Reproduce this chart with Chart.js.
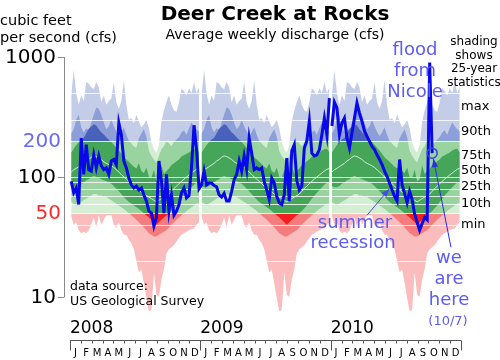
<!DOCTYPE html>
<html>
<head>
<meta charset="utf-8">
<script src="https://cdn.jsdelivr.net/npm/chart.js@4.4.1/dist/chart.umd.min.js"></script>
<style>
  html, body { margin: 0; padding: 0; background: #fff; }
  #wrap { width: 500px; height: 360px; }
</style>
</head>
<body>
<div id="wrap"><canvas id="flowChart" width="500" height="360"></canvas></div>
<script>
// 25-year weekly statistics (cfs), week 1..52, same every year
const statMax = [480, 780, 500, 400, 480, 430, 620, 600, 560, 540, 620, 560, 420,
  480, 400, 430, 450, 620, 420, 370, 430, 640, 400, 300, 310, 280,
  330, 290, 260, 275, 300, 255, 195, 170, 160, 185, 290, 360, 420,
  480, 400, 360, 350, 420, 550, 520, 480, 550, 500, 620, 500, 560];
const stat90 = [230, 250, 300, 330, 260, 235, 255, 245, 285, 330, 380, 370, 330,
  285, 250, 265, 300, 265, 240, 220, 235, 260, 225, 200, 190, 180,
  175, 210, 230, 250, 215, 165, 150, 140, 132, 150, 170, 180, 200,
  190, 180, 195, 205, 215, 235, 245, 225, 255, 285, 265, 250, 240];
const stat75 = [160, 172, 185, 195, 205, 212, 232, 252, 262, 275, 268, 250, 236,
  226, 214, 204, 196, 186, 175, 166, 156, 146, 140, 134, 128, 122,
  118, 130, 112, 108, 120, 100, 98, 115, 92, 96, 125, 106, 112,
  118, 126, 130, 135, 140, 148, 152, 156, 160, 166, 170, 172, 160];
const stat50 = [110, 115, 118, 122, 126, 130, 136, 140, 146, 150, 148, 144, 140,
  134, 130, 127, 124, 120, 115, 110, 105, 100, 96, 92, 88, 84,
  80, 78, 75, 72, 70, 68, 66, 64, 62, 64, 66, 68, 70,
  72, 76, 80, 84, 88, 92, 96, 100, 104, 108, 112, 116, 118];
const stat25 = [84, 82, 82, 84, 88, 90, 94, 96, 100, 102, 100, 98, 96,
  94, 92, 90, 88, 84, 80, 76, 72, 68, 65, 62, 60, 58,
  56, 54, 52, 50, 48, 46, 44, 42, 40, 42, 44, 46, 48,
  50, 52, 55, 58, 62, 66, 70, 74, 78, 82, 86, 90, 90];
const stat10 = [62, 60, 58, 60, 62, 64, 66, 68, 70, 72, 72, 70, 70,
  68, 68, 66, 64, 62, 60, 58, 56, 54, 52, 50, 48, 46,
  44, 42, 40, 38, 36, 34, 33, 32, 32, 33, 34, 35, 36,
  38, 40, 42, 44, 46, 48, 50, 52, 54, 56, 58, 60, 60];
const statMin = [47, 40, 42, 36, 34, 35, 34, 36, 40, 46, 38, 48, 40,
  44, 48, 48, 48, 40, 38, 42, 36, 33, 33, 30, 28, 25,
  20, 16, 17, 13, 9.8, 7.6, 7.8, 16, 10.5, 10, 14, 17, 23,
  25, 26, 27, 29, 31, 33, 34, 35, 36, 37, 37, 40, 42];

// observed average weekly discharge (cfs)
const flow2008 = [92, 74, 81, 59, 211, 105, 186, 115, 112, 153, 119, 150, 124,
  115, 119, 105, 136, 140, 127, 282, 225, 136, 119, 98, 86, 81,
  84, 78, 81, 71, 63, 52, 50, 39, 46, 136, 93, 50, 105,
  52, 71, 48, 52, 59, 74, 81, 67, 70, 120, 270, 170, 80];
const flow2009 = [86, 112, 86, 89, 89, 85, 83, 71, 68, 73, 63, 63, 76,
  95, 105, 136, 112, 150, 115, 211, 158, 115, 119, 115, 119, 92,
  78, 65, 98, 89, 69, 61, 59, 71, 144, 63, 165, 186, 93,
  78, 84, 174, 200, 293, 158, 150, 153, 169, 225, 310, 225, 455];
const flow2010 = [266, 420, 376, 225, 282, 310, 211, 174, 233, 310, 414, 341, 291,
  242, 218, 198, 180, 169, 153, 140, 127, 112, 101, 89, 78, 69,
  63, 140, 86, 73, 61, 76, 65, 49, 42, 36, 41, 46, 44,
  900, 158];

const years = [2008, 2009, 2010];
const monthLetters = ["J", "F", "M", "A", "M", "J", "J", "A", "S", "O", "N", "D"];
const tickLabels = [1000, 200, 100, 50, 10];
const gridValues = [500, 300, 200, 100, 90, 80, 70, 60, 50, 40, 20];
const pctLabels = ["max", "90th", "75th", "50th", "25th", "10th", "min"];

const hue = {
  pale:   { blue: "#c4cde8", green: "#d3eed3", red: "#fabcbc" },
  medium: { blue: "#8c9fd8", green: "#98d3a0", red: "#f47c7c" },
  dark:   { blue: "#4862bc", green: "#45a65a", red: "#f41c1c" }
};

const wk = (yr, w) => yr + (w + 0.5) / 52;
const toPts = (arr, yr) => arr.map((v, w) => ({ x: wk(yr, w), y: v }));

function bandColor(level) {
  return (c) => {
    const chart = c.chart;
    const area = chart.chartArea;
    const y = chart.scales.y;
    if (!area || !y) return hue[level].green;
    const g = chart.ctx.createLinearGradient(0, area.top, 0, area.bottom);
    const h = area.bottom - area.top;
    const f200 = Math.min(1, Math.max(0, (y.getPixelForValue(200) - area.top) / h));
    const f50 = Math.min(1, Math.max(0, (y.getPixelForValue(50) - area.top) / h));
    g.addColorStop(0, hue[level].blue);
    g.addColorStop(f200, hue[level].blue);
    g.addColorStop(f200, hue[level].green);
    g.addColorStop(f50, hue[level].green);
    g.addColorStop(f50, hue[level].red);
    g.addColorStop(1, hue[level].red);
    return g;
  };
}

const hidden = { borderWidth: 0, borderColor: "rgba(0,0,0,0)", pointRadius: 0, tension: 0 };
const datasets = [];
years.forEach(yr => {
  datasets.push({ label: "min", data: toPts(statMin, yr), fill: false, order: 5, ...hidden });
  datasets.push({ label: "max", data: toPts(statMax, yr), fill: "-1", backgroundColor: bandColor("pale"), order: 5, ...hidden });
  datasets.push({ label: "p10", data: toPts(stat10, yr), fill: false, order: 4, ...hidden });
  datasets.push({ label: "p90", data: toPts(stat90, yr), fill: "-1", backgroundColor: bandColor("medium"), order: 4, ...hidden });
  datasets.push({ label: "p25", data: toPts(stat25, yr), fill: false, order: 3, ...hidden });
  datasets.push({ label: "p75", data: toPts(stat75, yr), fill: "-1", backgroundColor: bandColor("dark"), order: 3, ...hidden });
  datasets.push({
    label: "p50", data: toPts(stat50, yr), fill: false, order: 2,
    borderColor: "rgba(255,255,255,0.75)", borderWidth: 1, pointRadius: 0, tension: 0
  });
});

const observed = [
  ...toPts(flow2008, 2008),
  ...toPts(flow2009, 2009),
  { x: 2010, y: null },
  ...toPts(flow2010, 2010)
];
const lastIdx = observed.length - 1;
datasets.push({
  label: "observed",
  data: observed,
  order: 0,
  fill: false,
  borderColor: "#0808e8",
  borderWidth: 3,
  tension: 0,
  pointRadius: c => (c.dataIndex === lastIdx ? 5 : 0),
  pointBorderWidth: 1.5,
  pointBorderColor: "#3a3af0",
  pointBackgroundColor: "rgba(0,0,0,0)"
});

function arrow(ctx, x0, y0, x1, y1, color) {
  const a = Math.atan2(y1 - y0, x1 - x0);
  ctx.strokeStyle = color;
  ctx.fillStyle = color;
  ctx.lineWidth = 1;
  ctx.beginPath();
  ctx.moveTo(x0, y0);
  ctx.lineTo(x1, y1);
  ctx.stroke();
  ctx.beginPath();
  ctx.moveTo(x1, y1);
  ctx.lineTo(x1 - 9 * Math.cos(a - 0.35), y1 - 9 * Math.sin(a - 0.35));
  ctx.lineTo(x1 - 9 * Math.cos(a + 0.35), y1 - 9 * Math.sin(a + 0.35));
  ctx.closePath();
  ctx.fill();
}

const decor = {
  id: "decor",
  beforeDatasetDraw(chart, args) {
    if (chart.data.datasets[args.index].label !== "observed") return;
    const { ctx, chartArea, scales } = chart;
    ctx.save();
    ctx.strokeStyle = "rgba(255,255,255,0.8)";
    ctx.lineWidth = 1;
    gridValues.forEach(v => {
      const py = Math.round(scales.y.getPixelForValue(v)) + 0.5;
      ctx.beginPath();
      ctx.moveTo(chartArea.left, py);
      ctx.lineTo(chartArea.right, py);
      ctx.stroke();
    });
    ctx.restore();
  },
  afterDraw(chart) {
    const { ctx, scales } = chart;
    const x = scales.x, y = scales.y;
    const font = "'DejaVu Sans', Verdana, sans-serif";
    const lav = "#5c5cf4";
    ctx.save();

    // left axis
    const axX = 64.5;
    ctx.strokeStyle = "#8a8a8a";
    ctx.lineWidth = 1;
    ctx.beginPath();
    ctx.moveTo(axX, y.getPixelForValue(1000));
    ctx.lineTo(axX, y.getPixelForValue(10));
    ctx.stroke();
    [1000, 100, 10].forEach(v => {
      const py = Math.round(y.getPixelForValue(v)) + 0.5;
      ctx.beginPath();
      ctx.moveTo(58, py);
      ctx.lineTo(axX, py);
      ctx.stroke();
    });
    ctx.textAlign = "right";
    ctx.textBaseline = "middle";
    ctx.font = "20px " + font;
    tickLabels.forEach(v => {
      ctx.fillStyle = v === 200 ? "#6a6af2" : v === 50 ? "#ff2a2a" : "#000";
      ctx.fillText(String(v), v === 1000 || v === 100 || v === 10 ? 56 : 61, y.getPixelForValue(v) + 1);
    });

    // bottom time axis
    const baseY = 340.5;
    ctx.strokeStyle = "#555";
    ctx.beginPath();
    ctx.moveTo(x.getPixelForValue(2008), baseY);
    ctx.lineTo(x.getPixelForValue(2011), baseY);
    ctx.stroke();
    years.concat([2011]).forEach(yr => {
      const px = Math.round(x.getPixelForValue(yr)) + 0.5;
      ctx.beginPath();
      ctx.moveTo(px, baseY);
      ctx.lineTo(px, baseY + 10);
      ctx.stroke();
    });
    ctx.fillStyle = "#000";
    ctx.textAlign = "center";
    ctx.font = "10px " + font;
    years.forEach(yr => {
      for (let m = 0; m < 12; m++) {
        if (m > 0) {
          const px = Math.round(x.getPixelForValue(yr + m / 12)) + 0.5;
          ctx.beginPath();
          ctx.moveTo(px, baseY);
          ctx.lineTo(px, baseY + 3);
          ctx.stroke();
        }
        ctx.fillText(monthLetters[m], x.getPixelForValue(yr + (m + 0.5) / 12), 353);
      }
    });
    ctx.textAlign = "left";
    ctx.font = "17px " + font;
    years.forEach(yr => ctx.fillText(String(yr), x.getPixelForValue(yr), 329));

    // titles
    ctx.textAlign = "center";
    ctx.font = "bold 20px " + font;
    ctx.fillText("Deer Creek at Rocks", 275, 15);
    ctx.font = "14px " + font;
    ctx.fillText("Average weekly discharge (cfs)", 275, 35);
    ctx.textAlign = "left";
    ctx.font = "14.5px " + font;
    ctx.fillText("cubic feet", 0, 21);
    ctx.fillText("per second (cfs)", 0, 38);
    ctx.font = "12.5px " + font;
    ctx.fillText("data source:", 70, 287);
    ctx.fillText("US Geological Survey", 70, 302);

    // right-hand legend
    ctx.textAlign = "center";
    ctx.font = "12px " + font;
    ["shading", "shows", "25-year", "statistics"].forEach((t, i) => ctx.fillText(t, 474, 42 + i * 13.5));
    ctx.textAlign = "left";
    ctx.font = "13px " + font;
    const pctY = [107, 132, 156, 171, 187, 204, 225];
    pctLabels.forEach((t, i) => ctx.fillText(t, 461, pctY[i]));

    // annotations
    ctx.fillStyle = lav;
    ctx.textAlign = "center";
    ctx.font = "18px " + font;
    ["flood", "from", "Nicole"].forEach((t, i) => ctx.fillText(t, 415, 50 + i * 21));
    ctx.fillText("summer", 355, 223);
    ctx.fillText("recession", 353, 243);
    ["we", "are", "here"].forEach((t, i) => ctx.fillText(t, 449, 258 + i * 21));
    ctx.font = "13px " + font;
    ctx.fillText("(10/7)", 448, 322);

    arrow(ctx, x.getPixelForValue(wk(2010, 14)), y.getPixelForValue(48),
      x.getPixelForValue(wk(2010, 23)), y.getPixelForValue(80), "#4a4aec");
    arrow(ctx, x.getPixelForValue(wk(2010, 47.5)), y.getPixelForValue(26),
      x.getPixelForValue(wk(2010, 40.5)), y.getPixelForValue(142), "#2a2ae8");
    ctx.restore();
  }
};

new Chart(document.getElementById("flowChart"), {
  type: "line",
  data: { datasets },
  options: {
    responsive: false,
    animation: false,
    devicePixelRatio: 1,
    parsing: true,
    spanGaps: false,
    layout: { padding: { left: 65, right: 39, top: 57, bottom: 39 } },
    scales: {
      x: { type: "linear", display: false, min: 2007.962, max: 2011 },
      y: { type: "logarithmic", display: false, min: 6.31, max: 1000 }
    },
    plugins: { legend: { display: false }, tooltip: { enabled: false } }
  },
  plugins: [decor]
});
</script>
</body>
</html>
